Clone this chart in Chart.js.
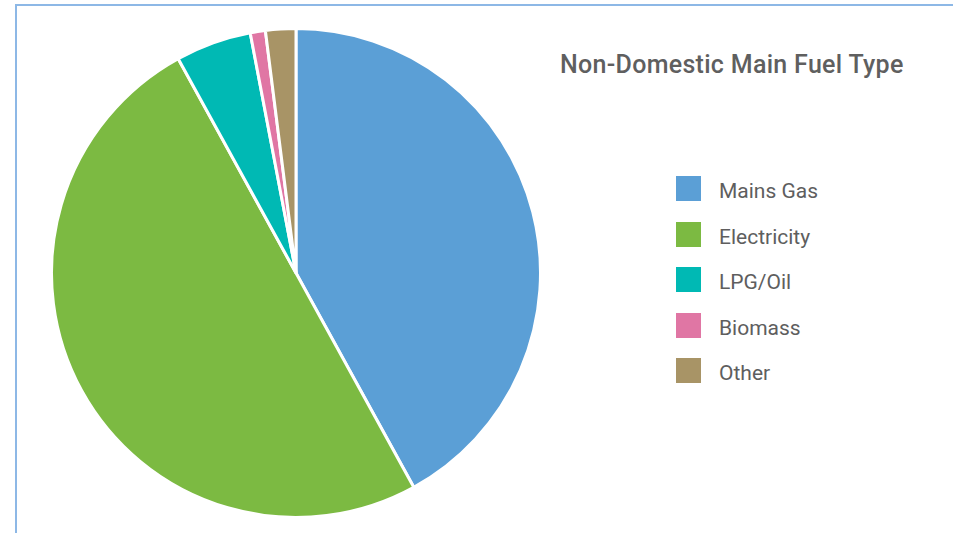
<!DOCTYPE html>
<html>
<head>
<meta charset="utf-8">
<script src="https://cdn.jsdelivr.net/npm/chart.js@4.4.1/dist/chart.umd.min.js"></script>
<style>
  html, body {
    margin: 0;
    padding: 0;
    background: #ffffff;
    width: 953px;
    height: 533px;
    overflow: hidden;
    font-family: Roboto, "Noto Sans", sans-serif;
  }
  /* panel frame, only its top and left edges show */
  .panel {
    position: absolute;
    left: 15px;
    top: 4px;
    width: 1200px;
    height: 800px;
    border-left: 2px solid #8db8e6;
    border-top: 2px solid #8db8e6;
  }
  .chart-box {
    position: absolute;
    left: 50px;
    top: 27px;
    width: 492px;
    height: 492px;
  }
  .chart-title {
    position: absolute;
    left: 560px;
    top: 50px;
    font-size: 25px;
    font-weight: 500;
    letter-spacing: 0.3px;
    color: #5f5f5f;
    white-space: nowrap;
  }
  #fuel-legend {
    position: absolute;
    left: 676px;
    top: 176px;
    margin: 0;
    padding: 0;
    list-style: none;
  }
  #fuel-legend li {
    position: relative;
    height: 45.5px;
  }
  #fuel-legend .swatch {
    position: absolute;
    left: 0;
    top: 0;
    width: 25px;
    height: 25px;
  }
  #fuel-legend .label {
    position: absolute;
    left: 43px;
    top: 3px;
    font-size: 21px;
    color: #5e5e5e;
    white-space: nowrap;
  }
</style>
</head>
<body>
<div class="panel"></div>
<div class="chart-title">Non-Domestic Main Fuel Type</div>
<div class="chart-box"><canvas id="fuel-chart" width="492" height="492"></canvas></div>
<ul id="fuel-legend"></ul>

<script>
  // Share of non-domestic buildings by main heating fuel (%)
  const fuelTypes = ['Mains Gas', 'Electricity', 'LPG/Oil', 'Biomass', 'Other'];
  const fuelShares = [42, 50, 5, 1, 2];
  const fuelColours = ['#5b9fd6', '#7cba42', '#00b9b4', '#e076a4', '#a89466'];

  /**
   * Builds the list legend beside the pie from the chart's own legend items.
   */
  const htmlLegend = {
    id: 'htmlLegend',
    afterUpdate: function (chart) {
      const list = document.getElementById('fuel-legend');
      while (list.firstChild) {
        list.firstChild.remove();
      }
      const items = chart.options.plugins.legend.labels.generateLabels(chart);
      items.forEach(function (item) {
        const li = document.createElement('li');
        const swatch = document.createElement('span');
        swatch.className = 'swatch';
        swatch.style.background = item.fillStyle;
        const label = document.createElement('span');
        label.className = 'label';
        label.textContent = item.text;
        li.appendChild(swatch);
        li.appendChild(label);
        list.appendChild(li);
      });
    }
  };

  const ctx = document.getElementById('fuel-chart').getContext('2d');
  new Chart(ctx, {
    type: 'pie',
    data: {
      labels: fuelTypes,
      datasets: [{
        data: fuelShares,
        backgroundColor: fuelColours,
        borderColor: '#ffffff',
        borderWidth: 3
      }]
    },
    options: {
      responsive: false,
      animation: false,
      layout: { padding: 0 },
      plugins: {
        legend: { display: false },
        tooltip: { enabled: false }
      }
    },
    plugins: [htmlLegend]
  });
</script>
</body>
</html>
